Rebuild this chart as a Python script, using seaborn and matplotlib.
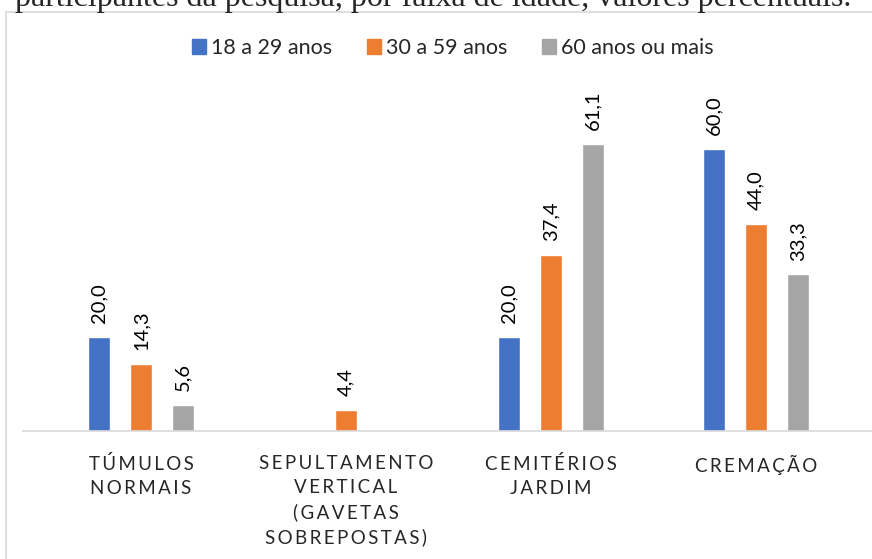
import pandas as pd
import matplotlib.pyplot as plt
import seaborn as sns
from matplotlib.patches import Rectangle

# Data
categories = ['TÚMULOS\nNORMAIS', 'SEPULTAMENTO\nVERTICAL\n(GAVETAS\nSOBREPOSTAS)',
              'CEMITÉRIOS\nJARDIM', 'CREMAÇÃO']
age_groups = ['18 a 29 anos', '30 a 59 anos', '60 anos ou mais']
vals_18_29 = [20.0, None, 20.0, 60.0]
vals_30_59 = [14.3, 4.4, 37.4, 44.0]
vals_60_plus = [5.6, None, 61.1, 33.3]
colors = ['#4472C4', '#ED7D31', '#A5A5A5']
caption = 'participantes da pesquisa, por faixa de idade, valores percentuais.'

SP = '\u2009'


def spaced(label):
    # wide letter tracking like the original
    return '\n'.join(SP.join(line) for line in label.split('\n'))


rows = []
for grp, vals in zip(age_groups, [vals_18_29, vals_30_59, vals_60_plus]):
    for cat, v in zip(categories, vals):
        if v is not None:
            rows.append({'cat': cat, 'grupo': grp, 'valor': v})
df = pd.DataFrame(rows)

sns.set_style('white')
plt.rcParams['font.family'] = ['Lato', 'DejaVu Sans']

fig = plt.figure(figsize=(8.72, 5.59), dpi=100)
ax = fig.add_axes([23 / 872, 1 - 431 / 559, 851 / 872, 329 / 559])

sns.barplot(data=df, x='cat', y='valor', hue='grupo', order=categories,
            hue_order=age_groups, palette=colors, width=0.615, gap=0.48,
            saturation=1, ax=ax, legend=False)

for container in ax.containers:
    for bar in container:
        h = bar.get_height()
        if h != h:
            continue
        ax.annotate(f'{h:.1f}'.replace('.', ','),
                    (bar.get_x() + bar.get_width() / 2, h),
                    xytext=(0, 10), textcoords='offset points',
                    rotation=90, ha='center', va='bottom', fontsize=14.5,
                    color='#000000')

ax.set_xlim(-0.576, 3.576)
ax.set_ylim(0, 70)
ax.set_xlabel('')
ax.set_ylabel('')
ax.set_yticks([])
ax.set_xticks(range(len(categories)))
ax.set_xticklabels([spaced(c) for c in categories], fontsize=13.5,
                   linespacing=1.5, va='top')
ax.tick_params(axis='x', length=0, pad=17)
for side in ['top', 'left', 'right']:
    ax.spines[side].set_visible(False)
ax.spines['bottom'].set_color('#d9d9d9')
ax.spines['bottom'].set_linewidth(1.2)

# legend
handles = [Rectangle((0, 0), 1, 1, color=c) for c in colors]
fig.legend(handles, age_groups, loc='center', ncol=3, frameon=False,
           bbox_to_anchor=(453 / 872, 1 - 48 / 559), fontsize=15.5,
           handlelength=0.65, handleheight=0.65, handletextpad=0.25,
           columnspacing=1.6)

# chart border and the cut-off caption line above it
fig.patches.append(Rectangle((6 / 872, -0.1), 2, 1.1 - 12 / 559,
                             transform=fig.transFigure, fill=False,
                             edgecolor='#d9d9d9', linewidth=1.2))
fig.text(15 / 872, 1 - 6 / 559, caption, family='Liberation Serif',
         fontsize=23, va='baseline', ha='left')

fig.savefig('out.png', dpi=100)
